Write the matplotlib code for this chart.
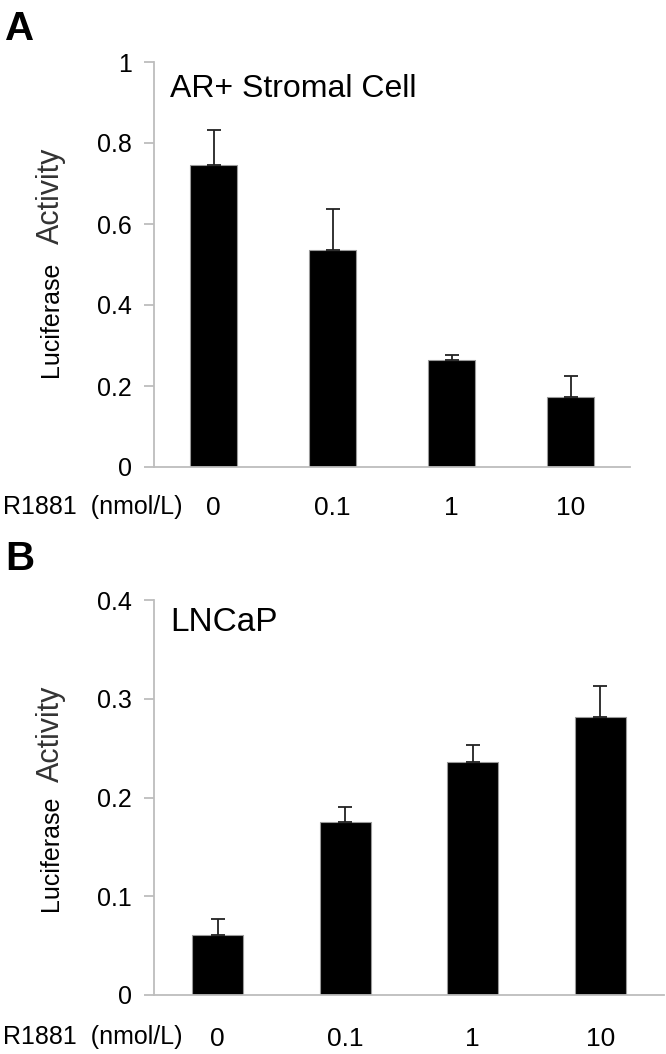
import numpy as np
import matplotlib
matplotlib.use("Agg")
import matplotlib.pyplot as plt

plt.rcParams['font.family'] = ['Liberation Sans', 'DejaVu Sans']

# doses of R1881, shared by both panels
doses = ["0", "0.1", "1", "10"]

# panel A: AR+ stromal cells
stromal_mean = [0.745, 0.537, 0.265, 0.174]
stromal_err = [0.086, 0.100, 0.011, 0.051]
stromal_ticks = [0, 0.2, 0.4, 0.6, 0.8, 1.0]
stromal_ticklabels = ["0", "0.2", "0.4", "0.6", "0.8", "1"]

# panel B: LNCaP cells
lncap_mean = [0.061, 0.175, 0.236, 0.282]
lncap_err = [0.016, 0.015, 0.017, 0.031]
lncap_ticks = [0, 0.1, 0.2, 0.3, 0.4]
lncap_ticklabels = ["0", "0.1", "0.2", "0.3", "0.4"]

W, H = 666, 1054
fig = plt.figure(figsize=(W / 100, H / 100), dpi=100)


def fx(px):
    return px / W


def fy(py):
    return 1 - py / H


def draw_panel(rect, mean, err, ticks, ticklabels, title, title_size, title_y,
               letter, letter_y, lab_y, lab_start, lab_end, xpad):
    ax = fig.add_axes(rect)
    xs = np.arange(len(doses))
    ax.bar(xs, mean, width=0.4, color="black", edgecolor="#9a9a9a", linewidth=0.8, zorder=2)
    ax.errorbar(xs, mean, yerr=[np.zeros(len(mean)), err], fmt="none",
                ecolor="#222222", elinewidth=1.3, capsize=5, capthick=1.3, zorder=3)
    ax.set_xlim(-0.5, 3.5)
    ax.set_ylim(ticks[0], ticks[-1])
    ax.set_yticks(ticks)
    ax.set_yticklabels(ticklabels)
    ax.set_xticks(xs)
    ax.set_xticklabels(doses)
    for s in ["top", "right"]:
        ax.spines[s].set_visible(False)
    for s in ["left", "bottom"]:
        ax.spines[s].set_color("#bdbdbd")
        ax.spines[s].set_linewidth(1.3)
    ax.tick_params(axis="y", length=7, width=1.3, color="#bdbdbd", labelsize=18, pad=9)
    ax.tick_params(axis="x", length=0, labelsize=19, pad=xpad)

    ax.text(fx(170), fy(title_y), title, transform=fig.transFigure, fontsize=title_size,
            ha="left", va="baseline")
    fig.text(fx(5), fy(letter_y), letter, fontsize=29, fontweight="bold", ha="left", va="baseline")
    fig.text(fx(3), fy(lab_y), "R1881  (nmol/L)", fontsize=18, ha="left", va="center")
    # y label in two pieces, the second word is a little grey in the original
    fig.text(fx(51), fy(lab_start), "Luciferase", fontsize=18, rotation=90,
             ha="center", va="bottom", color="black")
    fig.text(fx(51), fy(lab_end), "Activity", fontsize=22, rotation=90,
             ha="center", va="top", color="#333333")
    return ax


draw_panel([fx(154), fy(467), fx(630) - fx(154), fy(62) - fy(467)],
           stromal_mean, stromal_err, stromal_ticks, stromal_ticklabels,
           "AR+ Stromal Cell", 23, 97, "A", 40, 507, 377, 148, 21)

draw_panel([fx(154), fy(995), fx(664) - fx(154), fy(600) - fy(995)],
           lncap_mean, lncap_err, lncap_ticks, lncap_ticklabels,
           "LNCaP", 24, 631, "B", 570, 1037, 911, 686, 23)

fig.savefig("out.png", dpi=100)
